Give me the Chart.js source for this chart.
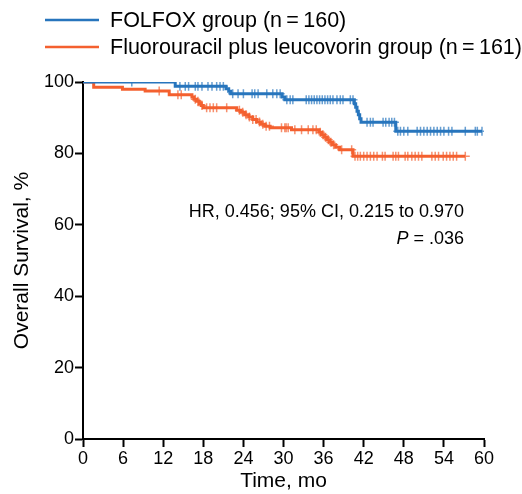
<!DOCTYPE html>
<html>
<head>
<meta charset="utf-8">
<script src="https://cdn.jsdelivr.net/npm/chart.js@4.4.0/dist/chart.umd.min.js"></script>
<style>
    body { margin: 0; background: #fff; }
    canvas { display: block; }
</style>
</head>
<body>
<canvas id="LineChart_km" width="522" height="494"></canvas>
<script>
// кривые Каплана-Мейера: время событий (мес) и выживаемость (%)
const folfoxTimes = [0, 13.8, 21.4, 21.8, 22.1, 29.8, 30.2, 40.6, 40.8, 41.0, 41.2, 41.4, 41.6, 46.8, 59.7];
const folfoxSurv = [100, 98.8, 98.1, 97.4, 96.7, 95.8, 95.0, 93.9, 92.9, 91.8, 90.8, 89.7, 88.7, 86.2, 86.2];
const folfoxCensor = [7.3, 14.5, 15.3, 15.8, 16.8, 17.2, 17.8, 18.7, 19.3, 20, 20.5, 21, 22.4, 23.2, 24, 25.3, 25.7, 26.2,
    27.5, 28.4, 29, 29.5, 30.5, 31, 31.4, 33.4, 33.8, 34.2, 34.6, 35, 35.4, 35.8, 36.2, 36.6, 37, 37.4, 38, 38.5, 38.9,
    40, 40.4, 42.5, 43, 43.4, 44.9, 45.3, 45.8, 46.2, 46.6, 47.1, 47.5, 48, 48.6, 50, 50.5, 51, 51.5, 52, 52.5, 53, 53.5,
    54, 54.7, 55.2, 57.2, 58.7, 59, 59.7];

const fluTimes = [0, 1.6, 5.9, 9.3, 12.9, 16.3, 16.6, 17.0, 17.4, 17.7, 18.0, 23.0, 23.6, 24.2, 24.8, 25.4, 26.0, 26.6,
    27.2, 28.0, 31.2, 35.3, 35.7, 36.1, 36.5, 36.9, 37.3, 37.8, 38.4, 40.4, 57.2];
const fluSurv = [100, 98.5, 98.0, 97.5, 96.4, 95.8, 95.2, 94.6, 94.0, 93.4, 92.8, 92.1, 91.5, 90.8, 90.2, 89.5, 88.8, 88.2,
    87.6, 87.2, 86.6, 85.9, 85.2, 84.5, 83.8, 83.1, 82.4, 81.7, 81.0, 79.2, 79.2];
const fluCensor = [11.4, 14.2, 14.7, 16.8, 17.2, 17.8, 18.5, 19, 19.5, 20, 21.5, 23.4, 23.9, 24.4, 24.9, 25.4, 25.9, 26.4,
    26.9, 27.4, 27.9, 29.7, 30.2, 30.4, 30.7, 31.7, 32.7, 33.7, 34.4, 34.9, 35.5, 35.9, 36.3, 36.7, 37.1, 37.5, 38.7, 40.2,
    40.7, 41.1, 41.5, 42, 42.5, 43, 43.5, 44, 44.8, 45.2, 46.4, 46.8, 47.2, 48.2, 48.6, 49.2, 49.7, 50.2, 50.7, 52.2, 52.7,
    53.2, 53.9, 54.4, 54.9, 55.4, 55.9, 57.2];

const legendLabels = ["FOLFOX group (n\u2009=\u2009160)", "Fluorouracil plus leucovorin group (n\u2009=\u2009161)"];
const statText1 = "HR, 0.456; 95% CI, 0.215 to 0.970";
const statText2 = " = .036";

const colorBlue = "#2775bd";
const colorOrange = "#f4602f";
const fontFamily = "'Liberation Sans', Arial, sans-serif";

// значение ступенчатой кривой в момент t
function stepValue(times, surv, t) {
    let v = surv[0];
    for (let i = 0; i < times.length; i++) {
        if (times[i] <= t) v = surv[i];
    }
    return v;
}

function toPoints(times, surv) {
    return times.map((t, i) => ({x: t, y: surv[i]}));
}

function censorPoints(censor, times, surv) {
    return censor.map(t => ({x: t, y: stepValue(times, surv, t)}));
}

// легенда и подписи HR / P рисуем сами
const textPlugin = {
    id: 'kmText',
    afterDraw(chart) {
        const ctx = chart.ctx;
        ctx.save();
        ctx.textBaseline = 'middle';
        ctx.lineWidth = 2.5;
        const rows = [[colorBlue, 20], [colorOrange, 47]];
        rows.forEach((r, i) => {
            ctx.strokeStyle = r[0];
            ctx.beginPath();
            ctx.moveTo(45, r[1]);
            ctx.lineTo(99, r[1]);
            ctx.stroke();
            ctx.fillStyle = '#000';
            ctx.font = "21.5px " + fontFamily;
            ctx.textAlign = 'left';
            ctx.fillText(legendLabels[i], 110, r[1] + 1);
        });

        ctx.font = "18px " + fontFamily;
        ctx.textAlign = 'right';
        ctx.fillText(statText1, 464, 212);
        ctx.fillText(statText2, 464, 239);
        const w = ctx.measureText(statText2).width;
        ctx.font = "italic 18px " + fontFamily;
        ctx.fillText("P", 464 - w, 239);
        ctx.restore();
    }
};

function chartKM() {
    const ctx = document.getElementById('LineChart_km').getContext('2d');
    Chart.defaults.font.family = fontFamily;
    Chart.defaults.color = '#000';

    new Chart(ctx, {
        type: 'line',
        data: {
            datasets: [
                {
                    label: legendLabels[0],
                    data: toPoints(folfoxTimes, folfoxSurv),
                    borderColor: colorBlue,
                    borderWidth: 3,
                    stepped: true,
                    pointRadius: 0,
                    fill: false
                },
                {
                    label: legendLabels[1],
                    data: toPoints(fluTimes, fluSurv),
                    borderColor: colorOrange,
                    borderWidth: 3,
                    stepped: true,
                    pointRadius: 0,
                    fill: false
                },
                {
                    type: 'scatter',
                    data: censorPoints(folfoxCensor, folfoxTimes, folfoxSurv),
                    pointStyle: 'cross',
                    pointRadius: 4.5,
                    borderWidth: 1.5,
                    borderColor: 'rgba(39,117,189,0.7)',
                    backgroundColor: 'transparent'
                },
                {
                    type: 'scatter',
                    data: censorPoints(fluCensor, fluTimes, fluSurv),
                    pointStyle: 'cross',
                    pointRadius: 4.5,
                    borderWidth: 1.5,
                    borderColor: 'rgba(244,96,47,0.7)',
                    backgroundColor: 'transparent'
                }
            ]
        },
        options: {
            responsive: false,
            animation: false,
            devicePixelRatio: 1,
            layout: {
                padding: {top: 82, right: 38, bottom: 0, left: 8}
            },
            plugins: {
                legend: {display: false},
                tooltip: {enabled: false}
            },
            scales: {
                x: {
                    type: 'linear',
                    min: 0,
                    max: 60,
                    afterFit: function (scale) { scale.height = 55; },
                    ticks: {stepSize: 6, font: {size: 18}, padding: 1, maxRotation: 0},
                    grid: {drawOnChartArea: false, drawTicks: true, tickLength: 8, color: '#000', tickWidth: 2},
                    border: {display: true, color: '#000', width: 2},
                    title: {display: true, text: 'Time, mo', font: {size: 21}, padding: {top: 0, bottom: 0}}
                },
                y: {
                    min: 0,
                    max: 100,
                    afterFit: function (scale) { scale.width = 75; },
                    ticks: {stepSize: 20, font: {size: 18}, padding: 1},
                    grid: {drawOnChartArea: false, drawTicks: true, tickLength: 8, color: '#000', tickWidth: 2},
                    border: {display: true, color: '#000', width: 2},
                    title: {display: true, text: 'Overall Survival, %', font: {size: 21}, padding: {top: 2, bottom: 0}}
                }
            }
        },
        plugins: [textPlugin]
    });
}

chartKM();
</script>
</body>
</html>
